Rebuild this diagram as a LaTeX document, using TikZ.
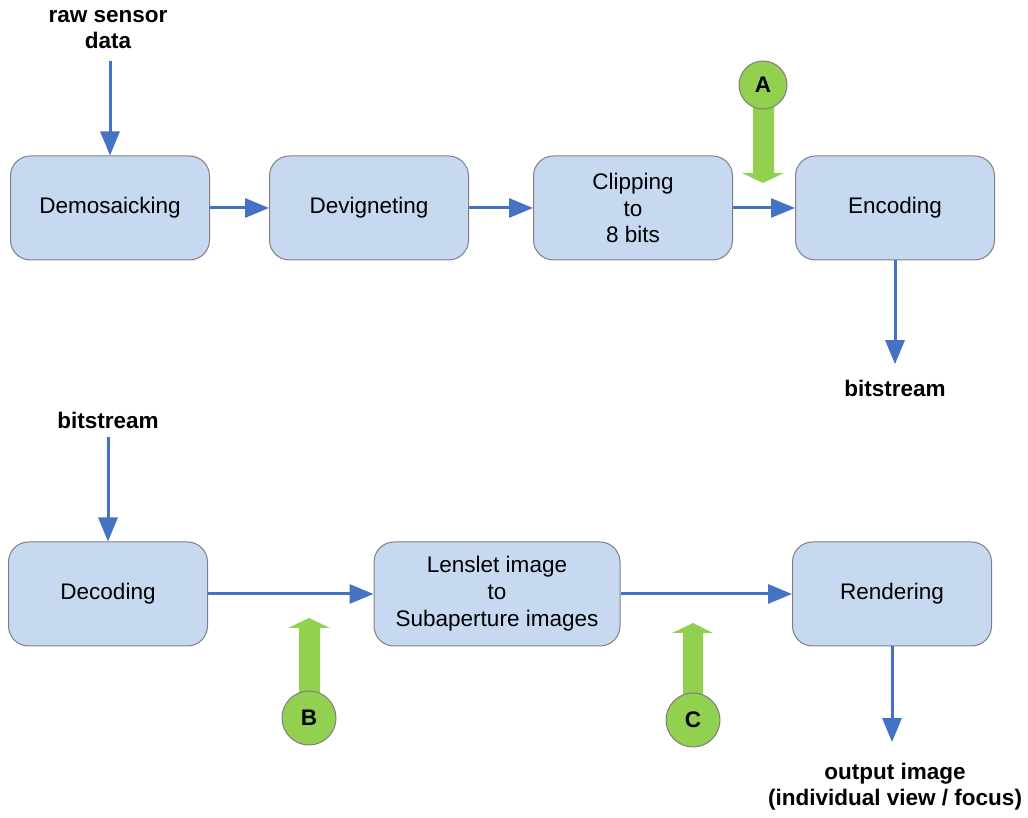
\documentclass[tikz,border=0pt]{standalone}
\usepackage{fontspec}
\setmainfont{Liberation Sans}
\usetikzlibrary{arrows.meta}
\definecolor{boxfill}{HTML}{C6D9F1}
\definecolor{boxline}{HTML}{7F7F7F}
\definecolor{flowblue}{HTML}{4472C4}
\definecolor{markgreen}{HTML}{92D050}
\tikzset{
  stage/.style={draw=boxline,line width=1bp,fill=boxfill,rounded corners=20bp,
    minimum height=104bp,align=center,font=\fontsize{22.6}{27}\selectfont},
  label/.style={align=center,font=\fontsize{22.6}{26}\selectfont\bfseries},
  flow/.style={flowblue,line width=3bp,-{Triangle[length=24bp,width=19bp]}},
  marker/.style={circle,draw=boxline,line width=1bp,fill=markgreen,inner sep=0pt,
    font=\fontsize{22.6}{27}\selectfont\bfseries},
}
\begin{document}
\begin{tikzpicture}[x=1bp,y=1bp]
\useasboundingbox (0,0) rectangle (1028,818);
%%
\node (node_0) at (110bp,610bp) [stage,minimum width=199bp] {Demosaicking};
  \node (node_1) at (369bp,610bp) [stage,minimum width=199bp] {Devigneting};
  \node (node_2) at (633bp,610bp) [stage,minimum width=199bp] {Clipping\\to\\8 bits};
  \node (node_3) at (895bp,610bp) [stage,minimum width=199bp] {Encoding};
  \node (node_4) at (108bp,224bp) [stage,minimum width=199bp] {Decoding};
  \node (node_5) at (497bp,224bp) [stage,minimum width=246bp] {Lenslet image\\to\\Subaperture images};
  \node (node_6) at (892bp,224bp) [stage,minimum width=199bp] {Rendering};
  \node (node_in) at (108bp,788bp) [label] {raw sensor\\data};
  \node (node_bs1) at (895bp,430bp) [label] {bitstream};
  \node (node_bs2) at (108bp,398bp) [label] {bitstream};
  \node (node_out) at (895bp,31bp) [label] {output image\\(individual view / focus)};
  \draw [flow,shorten <=8bp] (node_0.north |- node_in.south) -- (node_0.north);
  \draw [flow] (node_0) -- (node_1);
  \draw [flow] (node_1) -- (node_2);
  \draw [flow] (node_2) -- (node_3);
  \draw [flow,shorten >=12bp] (node_3.south) -- (node_3.south |- node_bs1.north);
  \draw [flow,shorten <=5bp] (node_4.north |- node_bs2.south) -- (node_4.north);
  \draw [flow] (node_4) -- (node_5);
  \draw [flow] (node_5) -- (node_6);
  \draw [flow,shorten >=18bp] (node_6.south) -- (node_6.south |- node_out.north);
%% green markers
  \fill [markgreen] (753,733) -- (774,733) -- (774,645) -- (784,645) -- (763,635) -- (742,645) -- (753,645) -- cycle;
  \node (node_a) at (763bp,733bp) [marker,minimum size=48bp] {A};
  \fill [markgreen] (299,100) -- (320,100) -- (320,190) -- (330,190) -- (309,200) -- (288,190) -- (299,190) -- cycle;
  \node (node_b) at (309bp,100bp) [marker,minimum size=54bp] {B};
  \fill [markgreen] (683,98) -- (703,98) -- (703,185) -- (713,185) -- (693,195) -- (672,185) -- (683,185) -- cycle;
  \node (node_c) at (693bp,98bp) [marker,minimum size=54bp] {C};
%
\end{tikzpicture}
\end{document}
